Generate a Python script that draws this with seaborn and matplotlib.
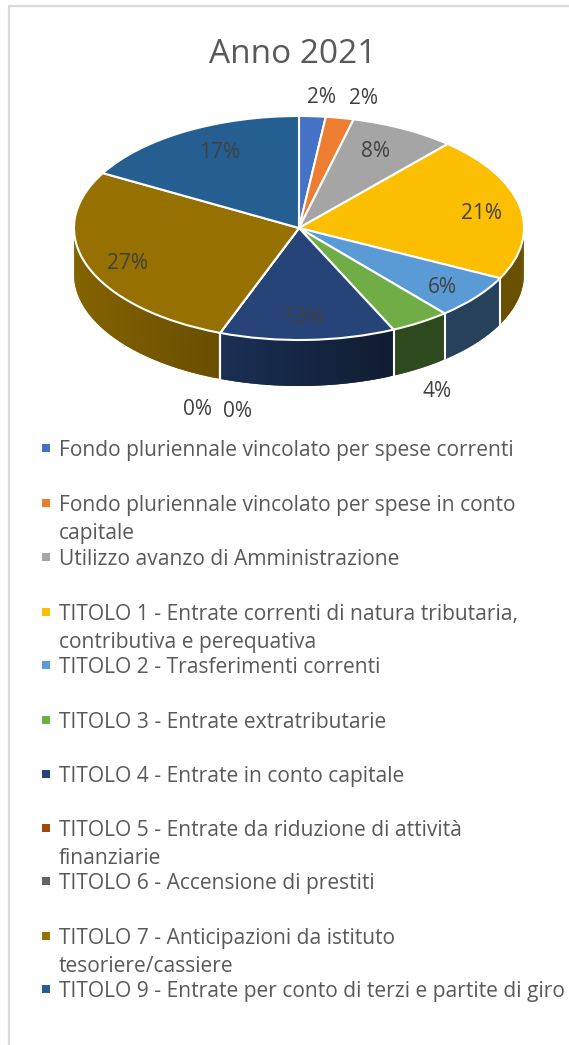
import numpy as np
import seaborn as sns
import matplotlib.pyplot as plt

# Data
categories = [
    "Fondo pluriennale vincolato per spese correnti",
    "Fondo pluriennale vincolato per spese in conto\ncapitale",
    "Utilizzo avanzo di Amministrazione",
    "TITOLO 1 - Entrate correnti di natura tributaria,\ncontributiva e perequativa",
    "TITOLO 2 - Trasferimenti correnti",
    "TITOLO 3 - Entrate extratributarie",
    "TITOLO 4 - Entrate in conto capitale",
    "TITOLO 5 - Entrate da riduzione di attività\nfinanziarie",
    "TITOLO 6 - Accensione di prestiti",
    "TITOLO 7 - Anticipazioni da istituto\ntesoriere/cassiere",
    "TITOLO 9 - Entrate per conto di terzi e partite di giro",
]
values = [1.9, 2.0, 7.6, 20.9, 6.4, 4.3, 12.6, 0.0, 0.0, 27.45, 16.85]
hex_colors = ['#4472C4', '#ED7D31', '#A5A5A5', '#FBBE00', '#5B9BD5', '#70AD47',
              '#264478', '#9E480E', '#636363', '#967000', '#255E91']

# Layout, in pixels of the output image
W, H = 569, 1045
CX, CY, RX, RY, DEPTH = 299, 228, 225, 112, 46
label_px = [(322, 97), (364, 98), (376, 151), (482, 213), (442, 287), (437, 391),
            (304, 317), (197, 409), (237, 411), (127, 263), (220, 152)]
legend_y = [448, 503, 557, 612, 665, 720, 774, 828, 881, 936, 989]
LINE_STEP = 28


def X(px):
    return (px - CX) / RX


def Y(py):
    return (CY - py) / RY


sns.set_theme(style="white")
plt.rcParams['font.family'] = ['Open Sans', 'DejaVu Sans']
palette = sns.color_palette(hex_colors)
GREY = '#595959'

fig = plt.figure(figsize=(W / 100, H / 100), dpi=100)
ax = fig.add_axes([0, 0, 1, 1])

# Top face
wedges, _, autotexts = ax.pie(
    values, colors=palette, startangle=90, counterclock=False, radius=1,
    autopct='%.0f%%', textprops={'fontsize': 15, 'color': '#404040'},
    wedgeprops={'edgecolor': 'white', 'linewidth': 1.5, 'zorder': 3},
)
ax.set_aspect('auto')
for text, (lx, ly) in zip(autotexts, label_px):
    text.set_position((X(lx), Y(ly)))
    text.set_zorder(5)

# Side wall, only the front half of the pie shows
depth = DEPTH / RY
edges = np.concatenate([[0], np.cumsum(values)]) / np.sum(values) * 360


def shade(x):
    return np.interp(x, [-1, -0.35, 0.4, 1], [0.88, 0.7, 0.42, 0.42])


for i, col in enumerate(palette):
    t0, t1 = max(edges[i], 90), min(edges[i + 1], 270)
    if t1 <= t0:
        continue
    ts = np.radians(np.append(np.arange(t0, t1, 1.0), t1))
    # each strip runs over the next one so no seams show
    for k in range(len(ts) - 1):
        a, b = ts[k], ts[min(k + 2, len(ts) - 1)]
        xs = [np.sin(a), np.sin(b), np.sin(b), np.sin(a)]
        ys = [np.cos(a), np.cos(b), np.cos(b) - depth, np.cos(a) - depth]
        c = np.array(col) * shade(np.sin(ts[k]))
        ax.fill(xs, ys, color=c, lw=0, zorder=1)

for e in edges:
    if 90 < e < 270:
        t = np.radians(e)
        ax.plot([np.sin(t)] * 2, [np.cos(t), np.cos(t) - depth],
                color='white', lw=1.5, zorder=2)

# Chart frame
ax.plot([X(9), X(9), X(W)], [Y(H), Y(6), Y(6)], color='#D9D9D9', lw=1.6, zorder=0)

# Title
ax.text(X(292.5), Y(54), "Anno 2021", fontsize=24, color=GREY, ha='center', va='center')

# Legend
for label, col, ly in zip(categories, palette, legend_y):
    ax.plot(X(46), Y(ly), marker='s', ms=5.6, color=col, mew=0, zorder=4)
    for j, line in enumerate(label.split("\n")):
        ax.text(X(59), Y(ly + 2 + j * LINE_STEP), line, fontsize=15.15, color=GREY,
                ha='left', va='center')

ax.set_xlim(X(0), X(W))
ax.set_ylim(Y(H), Y(0))
ax.set_axis_off()

fig.savefig('out.png', dpi=100, facecolor='white')
